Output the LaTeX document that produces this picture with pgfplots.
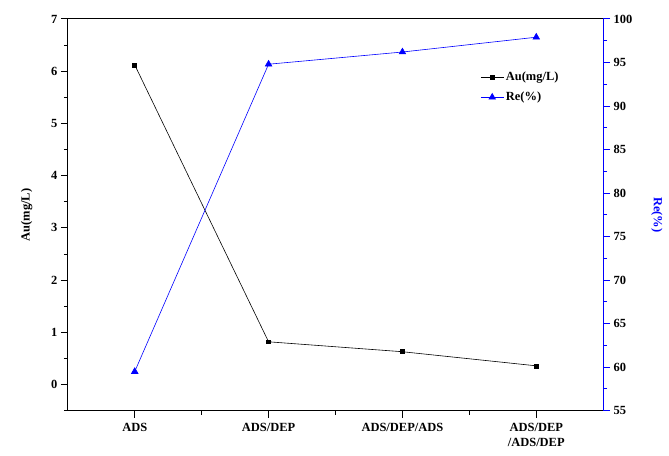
\documentclass[border=0pt]{standalone}
\usepackage{pgfplots}
\pgfplotsset{compat=1.18}
\usepackage{fontspec}
\setmainfont{Liberation Serif}
\begin{document}
\begin{tikzpicture}
\pgfplotsset{
  every axis/.append style={
    scale only axis, width=537pt, height=393pt,
    xmin=-0.5, xmax=3.5,
    font=\fontsize{12.5}{15}\selectfont\bfseries,
    /pgf/number format/assume math mode=true,
    tick label style={font=\fontsize{12.5}{15}\selectfont\bfseries},
    tick align=outside, major tick length=7pt, minor tick length=4pt,
    axis line style={line width=0.9pt},
  }
}
\begin{axis}[
  name=ax,
  axis y line*=left,
  ymin=-0.5, ymax=7,
  ytick={0,1,...,7}, minor ytick={-0.5,0.5,...,6.5},
  xtick={0,1,2,3}, minor xtick={0.5,1.5,2.5},
  xticklabels={ADS,ADS/DEP,ADS/DEP/ADS,{ADS/DEP\\/ADS/DEP}},
  xticklabel style={align=center},
  x tick label style={yshift=-2pt},
  ylabel={Au(mg/L)},
  ylabel style={yshift=12pt},
  xtick pos=bottom,
  every tick/.style={black, line width=1pt},
]
\addplot[black, mark=square*, mark size=2pt, line width=0.6pt] coordinates {(0,6.12) (1,0.82) (2,0.63) (3,0.36)};
\end{axis}
\begin{axis}[
  axis y line*=right, axis x line*=top,
  xtick=\empty,
  ymin=55, ymax=100,
  ytick={55,60,...,100}, minor ytick={57.5,62.5,...,97.5},
  y axis line style={blue, line width=0.9pt},
  every tick/.style={blue, line width=1pt},
  ylabel={Re(\%)}, ylabel style={blue, rotate=180, yshift=12pt},
  legend style={at={(0.765,0.875)}, anchor=north west, draw=none, fill=none,
    font=\fontsize{12.5}{15}\selectfont\bfseries, row sep=6pt},
  legend cell align=left,
  legend image code/.code={\draw[#1] (0cm,0cm) -- (0.8cm,0cm); \draw[#1, only marks] plot coordinates {(0.4cm,0cm)};},
]
\addlegendimage{black, mark=square*, mark size=2pt, line width=0.6pt}
\addlegendentry{Au(mg/L)}
\addplot[blue, mark=triangle*, mark size=3.8pt, line width=0.6pt] coordinates {(0,59.5) (1,94.8) (2,96.2) (3,97.9)};
\addlegendentry{Re(\%)}
\end{axis}
\pgfresetboundingbox
\path[use as bounding box] ([xshift=-68pt,yshift=-45pt]ax.south west) rectangle ([xshift=66pt,yshift=19pt]ax.north east);
\end{tikzpicture}
\end{document}
